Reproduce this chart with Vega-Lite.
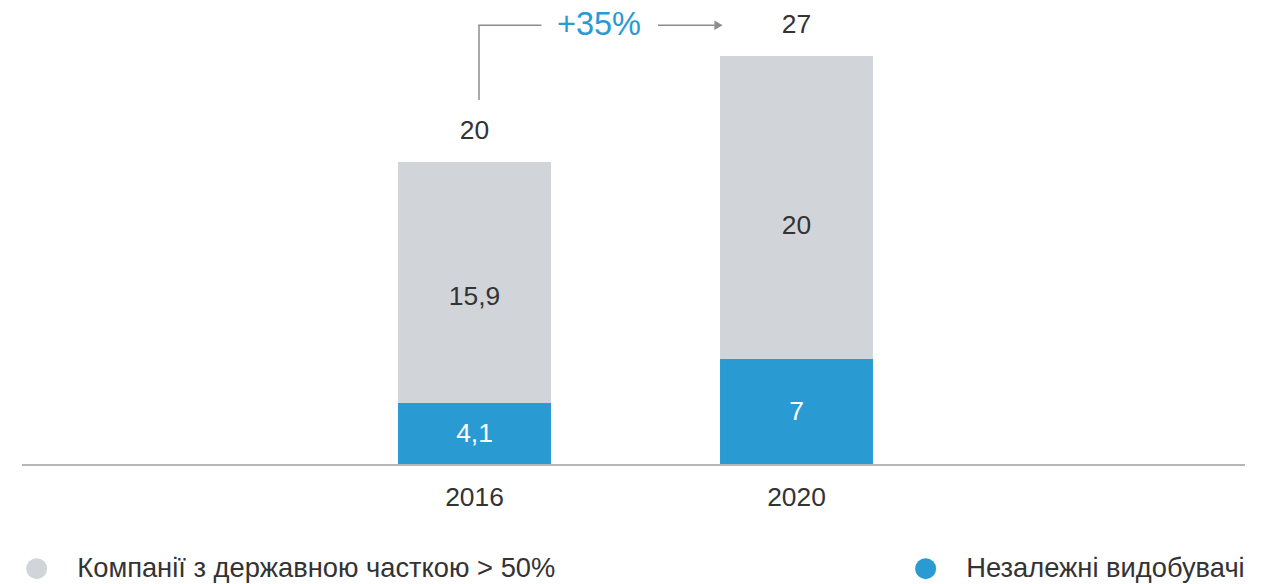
{
  "$schema": "https://vega.github.io/schema/vega-lite/v6.json",
  "autosize": {"type": "none"},
  "width": 1223,
  "height": 465,
  "padding": {"left": 22, "top": 0, "right": 21, "bottom": 119},
  "background": "white",
  "config": {
    "view": {"stroke": null},
    "font": "Liberation Sans",
    "locale": {"number": {"decimal": ",", "thousands": " ", "grouping": [3], "currency": ["", " ₴"]}}
  },
  "data": {"values": [
    {"year": "2016", "group": "Компанії з державною часткою > 50%", "value": 15.9},
    {"year": "2016", "group": "Незалежні видобувачі", "value": 4.1},
    {"year": "2020", "group": "Компанії з державною часткою > 50%", "value": 20},
    {"year": "2020", "group": "Незалежні видобувачі", "value": 7}
  ]},
  "layer": [
    {
      "mark": {"type": "bar"},
      "encoding": {
        "x": {"field": "year", "type": "ordinal",
          "scale": {"range": [291.5, 935.5], "paddingInner": 0.525, "paddingOuter": 0.2625},
          "axis": {"title": null, "labelAngle": 0, "ticks": false, "domain": false, "labelFontSize": 26.4, "labelColor": "#333333", "labelPadding": 19, "labelFont": "Liberation Sans"}},
        "y": {"field": "value", "type": "quantitative", "stack": "zero",
          "scale": {"domain": [0, 30.7], "nice": false}, "axis": null},
        "color": {"field": "group", "type": "nominal",
          "scale": {"domain": ["Компанії з державною часткою > 50%", "Незалежні видобувачі"], "range": ["#D1D5D9", "#2A9AD3"]},
          "legend": {"title": null, "orient": "none", "legendX": 1, "legendY": 555, "direction": "horizontal", "columns": 2, "columnPadding": 356, "symbolType": "circle", "symbolSize": 441, "symbolStrokeWidth": 0, "labelFontSize": 27.3, "labelColor": "#333333", "labelFont": "Liberation Sans", "labelOffset": 27, "labelLimit": 0, "padding": 0}},
        "order": {"field": "group", "sort": "descending"}
      }
    },
    {
      "data": {"values": [{"label": "baseline"}]},
      "mark": {"type": "rule", "color": "#B5B5B5", "strokeWidth": 2},
      "encoding": {
        "y": {"datum": 0, "type": "quantitative"}
      }
    },
    {
      "transform": [
        {"stack": "value", "groupby": ["year"], "as": ["v0", "v1"], "sort": [{"field": "group", "order": "descending"}]},
        {"calculate": "datum.v0 + (datum.v1 - datum.v0) * (datum.group === 'Незалежні видобувачі' ? 0.5 : 0.44)", "as": "mid"}
      ],
      "mark": {"type": "text", "fontSize": 26.4, "baseline": "middle", "align": "center"},
      "encoding": {
        "x": {"field": "year", "type": "ordinal"},
        "y": {"field": "mid", "type": "quantitative"},
        "text": {"field": "value", "type": "quantitative", "format": "~g"},
        "color": {"condition": {"test": "datum.group === 'Незалежні видобувачі'", "value": "#FFFFFF"}, "value": "#333333"}
      }
    },
    {
      "mark": {"type": "text", "fontSize": 26.4, "baseline": "middle", "align": "center", "dy": -31, "color": "#333333"},
      "encoding": {
        "x": {"field": "year", "type": "ordinal"},
        "y": {"aggregate": "sum", "field": "value", "type": "quantitative"},
        "text": {"aggregate": "sum", "field": "value", "type": "quantitative", "format": "~g"}
      }
    },
    {
      "data": {"values": [{"label": "+35%"}]},
      "mark": {"type": "rule", "color": "#8C8C8C", "strokeWidth": 1.5, "xOffset": 4.5},
      "encoding": {
        "x": {"datum": "2016", "type": "ordinal"},
        "y": {"datum": 24.1, "type": "quantitative"},
        "y2": {"datum": 29.04}
      }
    },
    {
      "data": {"values": [{"label": "+35%"}]},
      "mark": {"type": "rule", "color": "#8C8C8C", "strokeWidth": 1.5, "xOffset": 3.8, "x2Offset": 67},
      "encoding": {
        "x": {"datum": "2016", "type": "ordinal"},
        "x2": {"datum": "2016"},
        "y": {"datum": 29.04, "type": "quantitative"}
      }
    },
    {
      "data": {"values": [{"label": "+35%"}]},
      "mark": {"type": "rule", "color": "#8C8C8C", "strokeWidth": 1.5, "xOffset": -138.5, "x2Offset": -82},
      "encoding": {
        "x": {"datum": "2020", "type": "ordinal"},
        "x2": {"datum": "2020"},
        "y": {"datum": 29.04, "type": "quantitative"}
      }
    },
    {
      "data": {"values": [{"label": "+35%"}]},
      "mark": {"type": "point", "shape": "triangle-right", "filled": true, "color": "#8C8C8C", "opacity": 1, "size": 90, "xOffset": -78},
      "encoding": {
        "x": {"datum": "2020", "type": "ordinal"},
        "y": {"datum": 29.04, "type": "quantitative"}
      }
    },
    {
      "data": {"values": [{"label": "+35%"}]},
      "mark": {"type": "text", "fontSize": 32.5, "color": "#2A9AD3", "baseline": "middle", "align": "center", "dx": 124.5},
      "encoding": {
        "x": {"datum": "2016", "type": "ordinal"},
        "y": {"datum": 29.04, "type": "quantitative"},
        "text": {"field": "label"}
      }
    }
  ]
}
